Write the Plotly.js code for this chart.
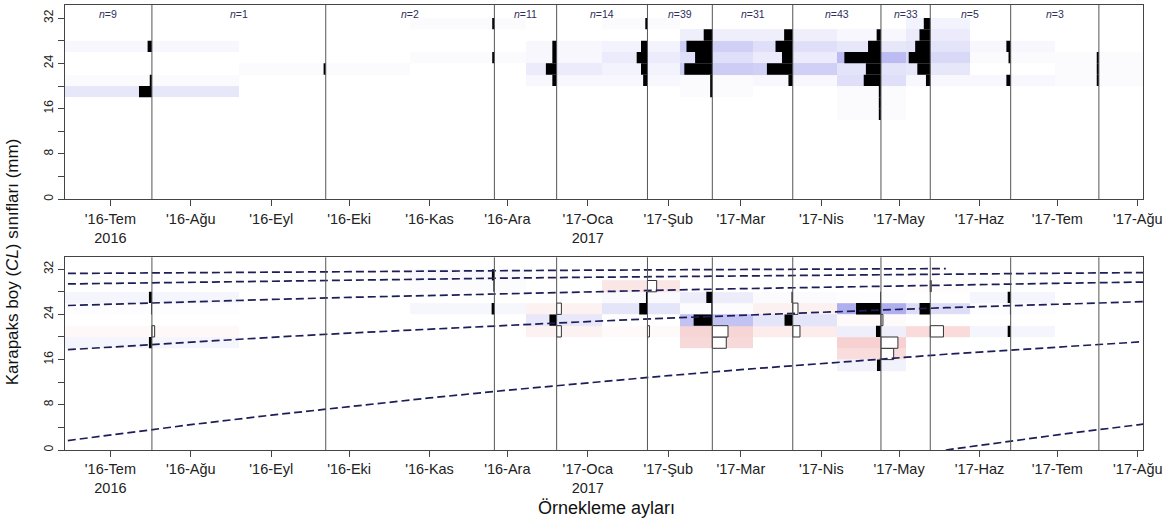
<!DOCTYPE html>
<html>
<head>
<meta charset="utf-8">
<script src="https://cdn.plot.ly/plotly-3.0.1.min.js"></script>
<style>
  html, body { margin: 0; padding: 0; background: #ffffff; }
  #chart { width: 1170px; height: 522px; }
</style>
</head>
<body>
<div id="chart"></div>
<script>
// ---------------- DATA ----------------
// Sampling dates (one vertical line / histogram per sample)
const sampleDates = ['2016-07-17','2016-09-22','2016-11-26','2016-12-20','2017-01-24',
                     '2017-02-18','2017-03-21','2017-04-24','2017-05-13','2017-06-13','2017-07-17'];
// Length classes (mid points, mm) : 14-16, 16-18, ... , 30-32
const classMids = [15, 17, 19, 21, 23, 25, 27, 29, 31];

// Catch counts per length class (top panel)
const catchJul16 = [0,0,6,1,0,0,2,0,0];
const catchSep16 = [0,0,0,0,1,0,0,0,0];
const catchNov16 = [0,0,0,0,0,1,0,0,1];
const catchDec16 = [0,0,0,2,5,2,2,0,0];
const catchJan17 = [0,0,0,2,3,5,3,0,1];
const catchFeb17 = [0,0,1,1,13,8,12,4,0];
const catchMar17 = [0,0,0,2,12,5,8,4,0];
const catchApr17 = [1,1,1,8,7,17,6,2,0];
const catchMay17 = [0,0,0,2,6,10,7,5,3];
const catchJun17 = [0,0,0,2,0,1,2,0,0];
const catchJul17 = [0,0,0,1,1,1,0,0,0];

// Restructured scores per length class (bottom panel, ELEFAN)
const rcJul16 = [0,0,0.12,-0.11,0,0.03,0.12,0,0];
const rcSep16 = [0,0,0,0,0,0,0,0,0];
const rcNov16 = [0,0,0,0,0,0.11,0,0.04,0.10];
const rcDec16 = [0,0,0,-0.19,0.29,-0.19,0,0,0];
const rcJan17 = [0,0,0,-0.08,0,0.33,0.06,-0.37,0];
const rcFeb17 = [0,0,-0.56,-0.63,0.75,0.04,0.24,0,0];
const rcMar17 = [0,0,0,-0.29,0.33,-0.21,0.05,0,0];
const rcApr17 = [0.16,-0.51,-0.68,0.20,-0.08,1.00,0.03,0,0];
const rcMay17 = [0,0,0,-0.53,0,0.43,0,-0.04,0];
const rcJun17 = [0,0,0,0.12,0,0.03,0.12,0,0];
const rcJul17 = [0,0,0,0,0,0,0,0,0];

// Growth curves (carapace length, mm) read at these dates
const curveDates = ['2016-06-10','2016-07-01','2016-08-01','2016-09-01','2016-10-01','2016-11-01',
                    '2016-12-01','2017-01-01','2017-02-01','2017-03-01','2017-04-01','2017-05-01',
                    '2017-05-19','2017-06-01','2017-07-01','2017-08-01','2017-08-06'];
const cohort2012 = [31.23,31.30,31.40,31.50,31.58,31.67,31.74,31.82,31.89,31.95,32.01,32.07,32.10,null,null,null,null];
const cohort2013 = [29.36,29.50,29.71,29.91,30.08,30.26,30.42,30.57,30.71,30.84,30.96,31.08,31.15,31.19,31.30,31.40,31.41];
const cohort2014 = [25.51,25.82,26.24,26.64,27.01,27.36,27.69,28.00,28.30,28.55,28.82,29.06,29.19,29.29,29.50,29.71,29.74];
const cohort2015 = [17.62,18.24,19.12,19.94,20.69,21.42,22.08,22.73,23.34,23.86,24.40,24.89,25.18,25.37,25.81,26.24,26.30];
const cohort2016 = [1.40,2.68,4.48,6.17,7.71,9.21,10.58,11.91,13.16,14.22,15.33,16.35,16.94,17.33,18.24,19.11,19.25];
const cohort2017 = [null,null,null,null,null,null,null,null,null,null,null,null,0.00,0.82,2.68,4.46,4.75];

// Axis ticks
const tickDates = ['2016-07-01','2016-08-01','2016-09-01','2016-10-01','2016-11-01','2016-12-01','2017-01-01',
                   '2017-02-01','2017-03-01','2017-04-01','2017-05-01','2017-06-01','2017-07-01','2017-08-01'];
const tickLabels = ["'16-Tem<br>2016","'16-Ağu","'16-Eyl","'16-Eki","'16-Kas","'16-Ara","'17-Oca<br>2017",
                    "'17-Şub","'17-Mar","'17-Nis","'17-May","'17-Haz","'17-Tem","'17-Ağu"];
const yTickVals = [0,4,8,12,16,20,24,28,32];
const yTickText = ['0','','8','','16','','24','','32'];

// ---------------- BUILD ----------------
const catchBySample = [catchJul16,catchSep16,catchNov16,catchDec16,catchJan17,catchFeb17,
                       catchMar17,catchApr17,catchMay17,catchJun17,catchJul17];
const rcBySample = [rcJul16,rcSep16,rcNov16,rcDec16,rcJan17,rcFeb17,rcMar17,rcApr17,rcMay17,rcJun17,rcJul17];

const DAY = 86400000;
const toMs = d => Date.parse(d + 'T00:00:00Z');
const msDates = sampleDates.map(toMs);
const nS = msDates.length;
const xRange = [msDates[0] - (msDates[1]-msDates[0])/2,
                msDates[nS-1] + (msDates[nS-1]-msDates[nS-2])/2];

const HIST_DAYS_PER_COUNT = 0.83;   // histogram bar length per fish
const RC_DAYS_PER_UNIT = 9.6;       // bar length per restructured score unit

// transpose for heatmaps: z[class][sample]
const zCatch = classMids.map((_, j) => catchBySample.map(s => s[j]));
const zRc = classMids.map((_, j) => rcBySample.map(s => s[j]));
const maxCount = Math.max(...catchBySample.flat());

function barData(matrix, scaleDays, keep) {
  const y = [], x = [], base = [];
  matrix.forEach((vals, i) => {
    vals.forEach((v, j) => {
      if (keep(v)) { y.push(classMids[j]); x.push(-v * scaleDays * DAY); base.push(sampleDates[i]); }
    });
  });
  return {y, x, base};
}

const traces = [];
traces.push({
  type: 'heatmap', x: sampleDates, y: classMids, z: zCatch, xaxis: 'x', yaxis: 'y',
  zmin: 0, zmax: maxCount, showscale: false, hoverinfo: 'skip',
  colorscale: [[0,'#ffffff'],[1,'#bcbcf2']]
});
traces.push({
  type: 'heatmap', x: sampleDates, y: classMids, z: zRc, xaxis: 'x2', yaxis: 'y2',
  zmin: -1, zmax: 1, showscale: false, hoverinfo: 'skip',
  colorscale: [[0,'#f3bcbc'],[0.5,'#ffffff'],[1,'#afafef']]
});
const topBars = barData(catchBySample, HIST_DAYS_PER_COUNT, v => v > 0);
traces.push({
  type: 'bar', orientation: 'h', xaxis: 'x', yaxis: 'y', y: topBars.y, x: topBars.x, base: topBars.base,
  width: 2, marker: {color: '#000000', line: {width: 0}}, hoverinfo: 'skip'
});
const posBars = barData(rcBySample, RC_DAYS_PER_UNIT, v => v > 0);
traces.push({
  type: 'bar', orientation: 'h', xaxis: 'x2', yaxis: 'y2', y: posBars.y, x: posBars.x, base: posBars.base,
  width: 2, marker: {color: '#000000', line: {width: 0}}, hoverinfo: 'skip'
});
const negBars = barData(rcBySample, RC_DAYS_PER_UNIT, v => v < 0);
traces.push({
  type: 'bar', orientation: 'h', xaxis: 'x2', yaxis: 'y2', y: negBars.y, x: negBars.x, base: negBars.base,
  width: 2, marker: {color: '#ffffff', line: {width: 1, color: '#333333'}}, hoverinfo: 'skip'
});
[cohort2012, cohort2013, cohort2014, cohort2015, cohort2016, cohort2017].forEach(c => {
  traces.push({
    type: 'scatter', mode: 'lines', x: curveDates, y: c, xaxis: 'x2', yaxis: 'y2',
    connectgaps: false, hoverinfo: 'skip',
    line: {color: '#1d1d58', width: 1.7, dash: '8px,4px'}
  });
});

// shapes: vertical sampling-date lines in both panels
const shapes = [];
sampleDates.forEach(d => {
  ['y domain','y2 domain'].forEach((yr, k) => {
    shapes.push({type: 'line', xref: k === 0 ? 'x' : 'x2', yref: yr, x0: d, x1: d, y0: 0, y1: 1,
                 line: {color: '#555555', width: 1}, layer: 'above'});
  });
});

// annotations: n labels
const annotations = [];
catchBySample.forEach((s, i) => {
  const prev = i === 0 ? xRange[0] : msDates[i-1];
  const mid = (prev + msDates[i]) / 2;
  const n = s.reduce((a, b) => a + b, 0);
  annotations.push({xref: 'x', yref: 'y', x: mid, y: 32.8, text: '<i>n</i>=' + n, showarrow: false,
                    font: {size: 10.5, color: '#2e2e5c', family: 'Liberation Sans, Arial, sans-serif'}});
});
annotations.push({xref: 'paper', yref: 'paper', x: -0.048, y: 0.4225, textangle: -90, showarrow: false,
  xanchor: 'center', yanchor: 'middle',
  text: 'Karapaks boy (<i>CL</i>) sınıfları (mm)',
  font: {size: 17, color: '#111', family: 'Liberation Sans, Arial, sans-serif'}});
annotations.push({xref: 'paper', yref: 'paper', x: 0.502, y: -0.130, showarrow: false,
  xanchor: 'center', yanchor: 'middle', text: 'Örnekleme ayları',
  font: {size: 18, color: '#111', family: 'Liberation Sans, Arial, sans-serif'}});

const xBase = {
  type: 'date', range: xRange, tickmode: 'array', tickvals: tickDates, ticktext: tickLabels,
  ticks: 'outside', ticklen: 6, tickcolor: '#444', tickwidth: 1,
  showline: true, mirror: true, linecolor: '#444', linewidth: 1,
  showgrid: false, zeroline: false,
  tickfont: {size: 14.5, color: '#222', family: 'Liberation Sans, Arial, sans-serif'}
};
const yBase = {
  tickmode: 'array', tickvals: yTickVals, ticktext: yTickText, tickangle: -90,
  ticks: 'outside', ticklen: 6, tickcolor: '#444', tickwidth: 1,
  showline: true, mirror: true, linecolor: '#444', linewidth: 1,
  showgrid: false, zeroline: false,
  tickfont: {size: 12, color: '#222', family: 'Liberation Sans, Arial, sans-serif'}
};

const layout = {
  width: 1170, height: 522,
  margin: {l: 65, r: 27, t: 5, b: 72},
  paper_bgcolor: '#ffffff', plot_bgcolor: '#ffffff',
  showlegend: false, barmode: 'overlay',
  xaxis: Object.assign({}, xBase, {anchor: 'y', domain: [0, 1]}),
  yaxis: Object.assign({}, yBase, {anchor: 'x', domain: [0.5634, 1], range: [0, 34.3]}),
  xaxis2: Object.assign({}, xBase, {anchor: 'y2', domain: [0, 1]}),
  yaxis2: Object.assign({}, yBase, {anchor: 'x2', domain: [0, 0.433], range: [0, 34.1]}),
  shapes: shapes,
  annotations: annotations,
  font: {family: 'Liberation Sans, Arial, sans-serif'}
};

Plotly.newPlot('chart', traces, layout, {displayModeBar: false, staticPlot: true});
</script>
</body>
</html>
